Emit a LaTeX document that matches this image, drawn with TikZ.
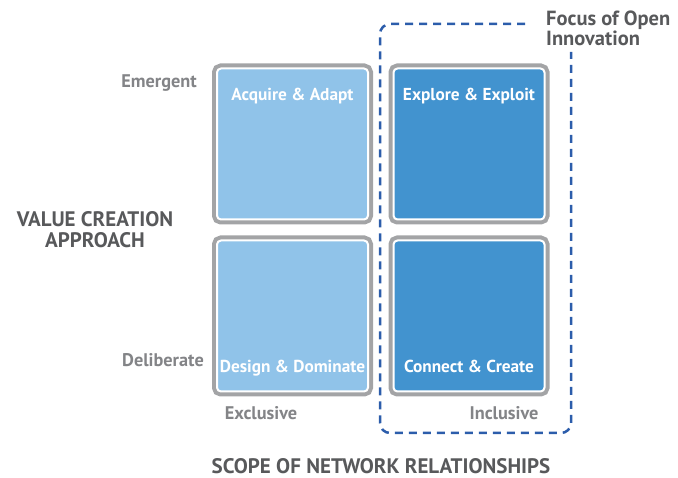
\documentclass[tikz,border=0pt]{standalone}
\usepackage{fontspec}
\setmainfont{PT Sans}
\usetikzlibrary{positioning}

\definecolor{lightcell}{HTML}{90C3E9}
\definecolor{darkcell}{HTML}{4293CF}
\definecolor{framegray}{HTML}{A3A4A6}
\definecolor{focusblue}{HTML}{2C5DAB}
\definecolor{axisgray}{HTML}{58595B}
\definecolor{tickgray}{HTML}{838487}

\begin{document}
\begin{tikzpicture}[x=1pt, y=-1pt,
  cell/.style={minimum width=151pt, minimum height=151pt, inner sep=0pt, outer sep=0pt,
    rounded corners=4pt, draw=white, line width=2pt,
    preaction={draw=framegray, line width=10pt}},
  celltext/.style={text=white, font=\bfseries\fontsize{17.3}{20}\selectfont, inner sep=0pt,
    text height=13pt, text depth=4pt},
  ticktext/.style={text=tickgray, font=\bfseries\fontsize{18.3}{21}\selectfont, inner sep=0pt},
  axistext/.style={text=axisgray, font=\bfseries\fontsize{21}{21}\selectfont, align=center, inner sep=0pt}]
  \useasboundingbox (0,0) rectangle (678,478);

  % Focus of open innovation
  \draw[focusblue, line width=2.5pt, dash pattern=on 8pt off 6pt, rounded corners=10pt]
    (525,24) -- (380,24) -- (380,433) -- (571,433) -- (571,52);
  \node[axistext, align=left, anchor=west, font=\bfseries\fontsize{20.5}{20}\selectfont] (focus) at (546,28) {Focus of Open\\Innovation};

  % Quadrants
  \node[cell, fill=lightcell] (acquire) at (292.5,144) {};
  \node[cell, fill=darkcell] (explore) at (469,144) {};
  \node[cell, fill=lightcell] (design) at (292.5,316) {};
  \node[cell, fill=darkcell] (connect) at (469,316) {};

  \node[celltext, below=19pt of acquire.north] (acquirelbl) {Acquire \& Adapt};
  \node[celltext, below=19pt of explore.north] (explorelbl) {Explore \& Exploit};
  \node[celltext, above=14.5pt of design.south] (designlbl) {Design \& Dominate};
  \node[celltext, above=14.5pt of connect.south] (connectlbl) {Connect \& Create};

  % Vertical axis
  \node[ticktext, anchor=east] (emergent) at (197,83) {Emergent};
  \node[ticktext, anchor=east] (deliberate) at (204,360) {Deliberate};
  \node[axistext] (value) at (95,230) {VALUE CREATION\\APPROACH};

  % Horizontal axis
  \node[ticktext] (exclusive) at (261,413) {Exclusive};
  \node[ticktext] (inclusive) at (504,413) {Inclusive};
  \node[axistext] (scope) at (381,466) {SCOPE OF NETWORK RELATIONSHIPS};
\end{tikzpicture}
\end{document}
